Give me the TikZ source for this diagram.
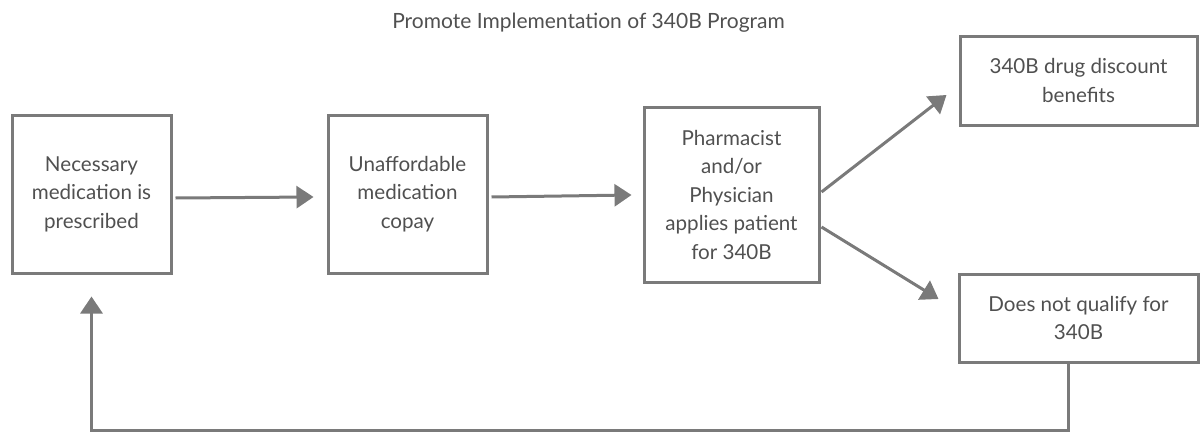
\documentclass[tikz,border=0pt]{standalone}
\usepackage{fontspec}
\setmainfont{Lato}
\usetikzlibrary{arrows.meta,calc}
\definecolor{linegray}{HTML}{7A7A7A}
\definecolor{textgray}{HTML}{505050}
\tikzset{
  box/.style={draw=linegray, line width=3pt, rectangle, inner sep=0pt, align=center,
    text=textgray, font=\fontsize{20.6}{28.5}\selectfont},
  arr/.style={draw=linegray, line width=3pt, -{Triangle[length=17pt,width=22pt]}},
  ttl/.style={text=textgray, font=\fontsize{21}{24}\selectfont, inner sep=0pt}
}
\begin{document}
\begin{tikzpicture}[x=1pt,y=-1pt]
\useasboundingbox (0,0) rectangle (1201,431);
\node[ttl, anchor=base] (title) at (588.5,28) {Promote Implementation of 340B Program};
\node[box, minimum width=159pt, minimum height=158pt] (b1) at (91.5,194) {Necessary\\medication is\\prescribed};
\node[box, minimum width=159pt, minimum height=158pt] (b2) at (407.5,194) {Unaffordable\\medication\\copay};
\node[box, minimum width=175pt, minimum height=175pt] (b3) at (731.5,194.5) {Pharmacist\\and/or\\Physician\\applies patient\\for 340B};
\node[box, minimum width=237pt, minimum height=89pt] (b4) at (1078.5,80.5) {340B drug discount\\benefits};
\node[box, minimum width=239pt, minimum height=88pt] (b5) at (1078.5,318) {Does not qualify for\\340B};
\coordinate (fbl) at (91.5,430);
\draw[arr] ($(b1.east)+(3,4)$) -- ($(b2.west)+(-13,3)$);
\draw[arr] ($(b2.east)+(3,3)$) -- ($(b3.west)+(-11,0.5)$);
\draw[arr] ($(b3.east)+(1,-2.5)$) -- ($(b4.west)+(-12,14.5)$);
\draw[arr] ($(b3.east)+(1,32.5)$) -- ($(b5.west)+(-19,-19)$);
\draw[arr] ($(b5.south)+(-10.5,0)$) |- (fbl) -- ($(b1.south)+(0,22)$);
\end{tikzpicture}
\end{document}
